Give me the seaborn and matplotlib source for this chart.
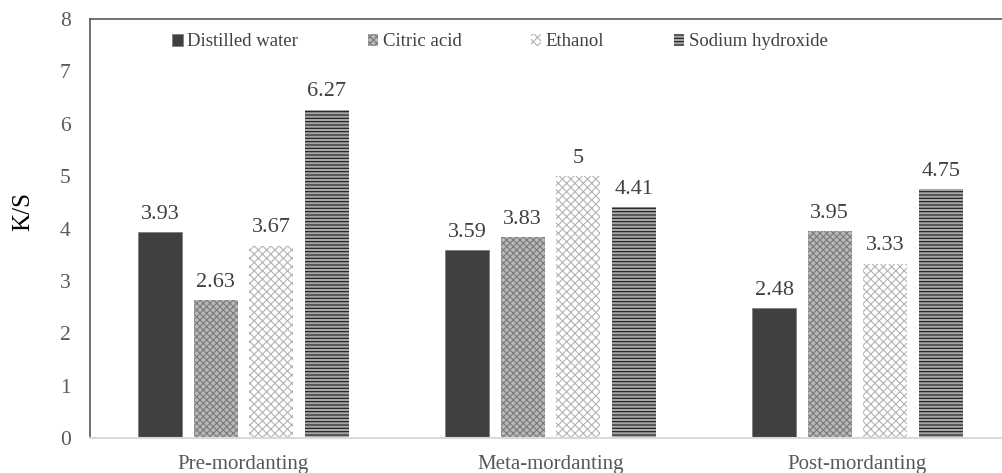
import matplotlib
matplotlib.use("Agg")
import matplotlib.pyplot as plt
import seaborn as sns
import pandas as pd

stages = ["Pre-mordanting", "Meta-mordanting", "Post-mordanting"]
solvents = ["Distilled water", "Citric acid", "Ethanol", "Sodium hydroxide"]
distilled_water = [3.93, 3.59, 2.48]
citric_acid = [2.63, 3.83, 3.95]
ethanol = [3.67, 5.00, 3.33]
sodium_hydroxide = [6.27, 4.41, 4.75]
value_labels = [["3.93", "3.59", "2.48"], ["2.63", "3.83", "3.95"],
                ["3.67", "5", "3.33"], ["6.27", "4.41", "4.75"]]

series = [distilled_water, citric_acid, ethanol, sodium_hydroxide]
rows = []
for sol, vals in zip(solvents, series):
    for st, v in zip(stages, vals):
        rows.append({"stage": st, "solvent": sol, "ks": v})
df = pd.DataFrame(rows)

sns.set_theme(style="white")
plt.rcParams["font.family"] = ["Liberation Serif", "DejaVu Serif"]
plt.rcParams["hatch.linewidth"] = 0.8

fig = plt.figure(figsize=(10.02, 4.73), dpi=100)
ax = fig.add_axes([90 / 1002, 35 / 473, (1011 - 90) / 1002, (438 - 19) / 473])

face = ["#404040", "#b8b8b8", "#ffffff", "#a6a6a6"]
hatch_col = ["#404040", "#7a7a7a", "#b3b3b3", "#1a1a1a"]
hatches = [None, "xxxxx", "xxxx", "-----"]

sns.barplot(data=df, x="stage", y="ks", hue="solvent", order=stages,
            hue_order=solvents, palette=face, saturation=1, width=0.725,
            gap=0.21, legend=False, ax=ax, errorbar=None)

for i, cont in enumerate(ax.containers):
    for p in cont.patches:
        p.set_facecolor(face[i])
        if hatches[i]:
            p.set_hatch(hatches[i])
            p.set_edgecolor(hatch_col[i])
            p.set_linewidth(0)
        else:
            p.set_edgecolor("#7f7f7f")
            p.set_linewidth(0.6)
    ax.bar_label(cont, labels=value_labels[i], padding=6, fontsize=16,
                 color="#404040")

ax.set_ylim(0, 8)
ax.set_xlim(-0.5, 2.5)
ax.set_yticks(range(0, 9))
ax.set_xlabel("")
ax.set_ylabel("K/S", fontsize=18, color="black")
ax.yaxis.set_label_coords(-0.061, 0.54)
ax.tick_params(axis="y", length=0, pad=14, labelsize=15.5, labelcolor="#595959")
ax.tick_params(axis="x", length=0, pad=12, labelsize=15, labelcolor="#595959")

for s in ["left", "top"]:
    ax.spines[s].set_color("#595959")
    ax.spines[s].set_linewidth(1.2)
ax.spines["right"].set_visible(False)
ax.spines["bottom"].set_color("#d9d9d9")
ax.spines["bottom"].set_linewidth(1.5)

handles = [c.patches[0] for c in ax.containers]
fig.legend(handles=handles, labels=solvents, loc="center",
           bbox_to_anchor=(500 / 1002, 1 - 42 / 473), ncol=4, frameon=False,
           fontsize=13.5, handlelength=0.55, handleheight=0.55, handletextpad=0.25,
           columnspacing=3.7, labelcolor="#404040")

fig.savefig("out.png", dpi=100)
